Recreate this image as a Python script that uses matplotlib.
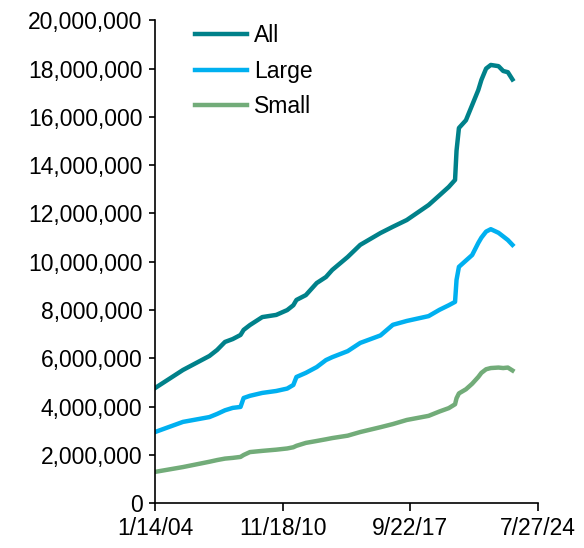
import matplotlib
matplotlib.use("Agg")
import matplotlib.pyplot as plt
import matplotlib.ticker as mticker
import pandas as pd

# values (millions)
dates = ["2004-01-14", "2005-07-15", "2006-12-15", "2007-05-15", "2007-10-15",
         "2008-03-15", "2008-08-15", "2008-10-15", "2009-02-15", "2009-10-15",
         "2010-07-15", "2011-02-15", "2011-06-15", "2011-08-15", "2012-02-15",
         "2012-09-15", "2013-03-15", "2013-07-15", "2014-05-15", "2015-01-15",
         "2016-02-15", "2016-10-15", "2017-07-15", "2018-09-15", "2019-04-15",
         "2019-10-15", "2020-02-15", "2020-03-15", "2020-05-01", "2020-09-15",
         "2021-01-15", "2021-05-15", "2021-07-15", "2021-10-15", "2022-01-15",
         "2022-06-15", "2022-09-15", "2022-12-15", "2023-03-15"]
all_banks = [4.77, 5.52, 6.10, 6.35, 6.68, 6.80, 6.97, 7.18, 7.38, 7.71,
             7.80, 8.00, 8.20, 8.42, 8.62, 9.12, 9.37, 9.66, 10.20, 10.70,
             11.19, 11.45, 11.73, 12.35, 12.75, 13.10, 13.39, 14.60, 15.54, 15.86,
             16.49, 17.11, 17.53, 18.00, 18.15, 18.10, 17.90, 17.85, 17.55]
large = [2.95, 3.37, 3.57, 3.70, 3.85, 3.95, 3.99, 4.36, 4.45, 4.57,
         4.65, 4.75, 4.90, 5.23, 5.40, 5.64, 5.93, 6.05, 6.30, 6.64,
         6.95, 7.39, 7.55, 7.75, 8.01, 8.20, 8.34, 9.25, 9.79, 10.05,
         10.28, 10.78, 11.00, 11.25, 11.35, 11.20, 11.05, 10.90, 10.70]
small = [1.30, 1.50, 1.72, 1.79, 1.85, 1.88, 1.92, 2.00, 2.12, 2.17,
         2.22, 2.27, 2.32, 2.38, 2.50, 2.58, 2.65, 2.70, 2.80, 2.95,
         3.15, 3.28, 3.45, 3.62, 3.80, 3.94, 4.10, 4.35, 4.55, 4.72,
         4.95, 5.23, 5.40, 5.55, 5.60, 5.62, 5.60, 5.62, 5.50]
tick_labels = ["1/14/04", "11/18/10", "9/22/17", "7/27/24"]

x = pd.to_datetime(dates)
ticks = pd.to_datetime(tick_labels, format="%m/%d/%y")

plt.rcParams.update({'font.family': ['Liberation Sans', 'DejaVu Sans'], 'font.size': 16.5})
fig = plt.figure(figsize=(5.84, 5.48), dpi=100)
ax = fig.add_axes([0.2654, 0.0816, 0.6558, 0.8814])

ax.plot(x, [v * 1e6 for v in all_banks], color='#00818A', linewidth=3.2, label='All')
ax.plot(x, [v * 1e6 for v in large], color='#00B0F0', linewidth=3.2, label='Large')
ax.plot(x, [v * 1e6 for v in small], color='#72AC79', linewidth=3.2, label='Small')

ax.set_xlim(ticks[0], ticks[-1])
ax.set_xticks(ticks)
ax.set_xticklabels(tick_labels)
ax.set_ylim(0, 20e6)
ax.set_yticks(range(0, 20000001, 2000000))
ax.yaxis.set_major_formatter(mticker.FuncFormatter(lambda v, p: f"{int(v):,}"))

ax.spines['top'].set_visible(False)
ax.spines['right'].set_visible(False)
ax.spines['left'].set_linewidth(1.2)
ax.spines['bottom'].set_linewidth(1.2)
ax.tick_params(axis='x', direction='out', length=6, width=1.2, pad=4)
ax.tick_params(axis='y', direction='out', length=4, width=1.2, pad=5)

ax.legend(loc='upper left', bbox_to_anchor=(0.05, 1.035), frameon=False,
          handlelength=2.3, handletextpad=0.3, labelspacing=0.55)

fig.savefig('out.png', dpi=100)
